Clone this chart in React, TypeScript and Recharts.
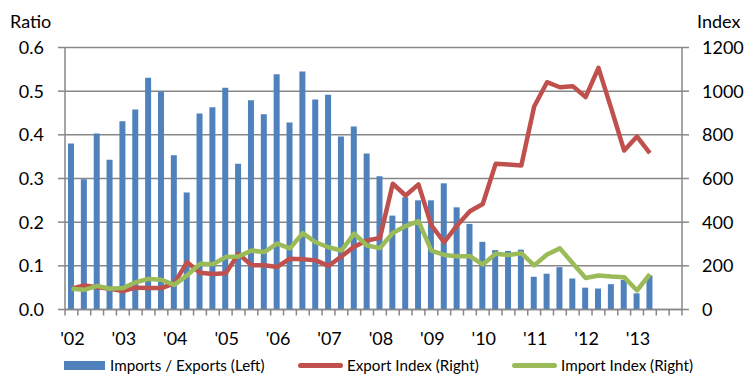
import React from 'react';
import {
  ComposedChart,
  Bar,
  Line,
  XAxis,
  YAxis,
  CartesianGrid,
  Legend,
} from 'recharts';

const years = ['02', '03', '04', '05', '06', '07', '08', '09', '10', '11', '12', '13'];
const quarters = years.flatMap((y) => ['Q1', 'Q2', 'Q3', 'Q4'].map((q) => `'${y} ${q}`));

const ratio = [
  0.38, 0.298, 0.403, 0.343, 0.431, 0.458, 0.531, 0.499, 0.353, 0.268, 0.449, 0.463,
  0.508, 0.334, 0.479, 0.447, 0.539, 0.428, 0.545, 0.481, 0.492, 0.396, 0.419, 0.357,
  0.305, 0.215, 0.257, 0.25, 0.25, 0.289, 0.234, 0.196, 0.155, 0.136, 0.134, 0.137,
  0.075, 0.082, 0.097, 0.071, 0.05, 0.048, 0.058, 0.068, 0.037, 0.078,
];

const exportIndex = [
  95, 110, 102, 95, 84, 100, 98, 98, 120, 217, 168, 163,
  166, 255, 203, 203, 195, 233, 230, 225, 200, 243, 288, 316,
  328, 576, 522, 573, 385, 308, 385, 450, 483, 667, 664, 660,
  930, 1041, 1018, 1023, 973, 1107, 920, 728, 792, 716,
];

const importIndex = [
  95, 90, 108, 95, 98, 125, 140, 136, 113, 156, 209, 207,
  240, 243, 270, 263, 302, 280, 350, 308, 285, 270, 348, 293,
  281, 350, 382, 405, 270, 250, 244, 244, 206, 255, 250, 258,
  202, 252, 280, 212, 144, 156, 151, 148, 87, 162,
];

const leftTicks = [0, 0.1, 0.2, 0.3, 0.4, 0.5, 0.6];
const rightTicks = [0, 200, 400, 600, 800, 1000, 1200];

const data = quarters.map((q, i) => ({
  q,
  ratio: ratio[i] ?? null,
  exp: exportIndex[i] ?? null,
  imp: importIndex[i] ?? null,
}));

const FONT = 'Lato, "Open Sans", sans-serif';
const GRID = '#878787';
const TEXT = '#000';
const TICK_FS = 18;

const QuarterTick = (props: any) => {
  const { x, y, payload, index } = props;
  const half = payload?.offset || 617 / 48 / 2;
  const label = String(payload.value);
  return (
    <g>
      <line x1={x - half} x2={x - half} y1={y} y2={y + 6} stroke={GRID} strokeWidth={1.5} />
      {index === quarters.length - 1 && (
        <line x1={x + half} x2={x + half} y1={y} y2={y + 6} stroke={GRID} strokeWidth={1.5} />
      )}
      {label.endsWith('Q1') && (
        <text x={x + 1} y={y + 35} textAnchor="middle" fontSize={TICK_FS} fill={TEXT} fontFamily={FONT}>
          {label.split(' ')[0]}
        </text>
      )}
    </g>
  );
};

const legendItems = [
  { name: 'Imports / Exports (Left)', color: '#4F81BD', kind: 'bar', left: 64 },
  { name: 'Export Index (Right)', color: '#C0504D', kind: 'line', left: 298 },
  { name: 'Import Index (Right)', color: '#9BBB59', kind: 'line', left: 512 },
];

const ChartLegend = () => (
  <div style={{ position: 'relative', width: 755, height: 24, fontFamily: FONT, fontSize: 15.2 }}>
    {legendItems.map((it) => (
      <div
        key={it.name}
        style={{ position: 'absolute', left: it.left, top: 0, display: 'flex', alignItems: 'center', height: 24 }}
      >
        {it.kind === 'bar' ? (
          <span style={{ display: 'inline-block', width: 41, height: 9, background: it.color, marginRight: 5 }} />
        ) : (
          <span
            style={{ display: 'inline-block', width: 45, height: 5, borderRadius: 3, background: it.color, marginRight: 4 }}
          />
        )}
        <span style={{ color: TEXT, whiteSpace: 'nowrap' }}>{it.name}</span>
      </div>
    ))}
  </div>
);

export default function App() {
  return (
    <div style={{ position: 'absolute', left: 0, top: 0, width: 755, height: 387, background: '#fff' }}>
      <ComposedChart
        width={755}
        height={387}
        data={data}
        margin={{ top: 47.5, right: 0, bottom: 37.5, left: 0 }}
        barCategoryGap={0}
      >
        <CartesianGrid yAxisId="left" vertical={false} stroke={GRID} strokeWidth={1.5} />
        <XAxis
          dataKey="q"
          interval={0}
          height={40}
          tickLine={false}
          tickSize={0}
          tickMargin={0}
          axisLine={{ stroke: GRID, strokeWidth: 1.5 }}
          tick={<QuarterTick />}
        />
        <YAxis
          yAxisId="left"
          width={65}
          domain={[0, 0.6]}
          ticks={leftTicks}
          tickFormatter={(v: number) => v.toFixed(1)}
          axisLine={{ stroke: GRID, strokeWidth: 1.5 }}
          tickLine={{ stroke: GRID, strokeWidth: 1.5 }}
          tickSize={7}
          tickMargin={14}
          tick={{ fill: TEXT, fontSize: TICK_FS, fontFamily: FONT }}
          label={{
            content: () => (
              <text x={10} y={28} fontSize={TICK_FS} fill={TEXT} fontFamily={FONT}>
                Ratio
              </text>
            ),
          }}
        />
        <YAxis
          yAxisId="right"
          orientation="right"
          width={73}
          domain={[0, 1200]}
          ticks={rightTicks}
          axisLine={{ stroke: GRID, strokeWidth: 1.5 }}
          tickLine={{ stroke: GRID, strokeWidth: 1.5 }}
          tickSize={7}
          tickMargin={13}
          tick={{ fill: TEXT, fontSize: TICK_FS, fontFamily: FONT }}
          label={{
            content: () => (
              <text x={697} y={28} fontSize={TICK_FS} fill={TEXT} fontFamily={FONT}>
                Index
              </text>
            ),
          }}
        />
        <Bar yAxisId="left" dataKey="ratio" name="Imports / Exports (Left)" fill="#4F81BD" barSize={6} isAnimationActive={false} />
        <Line
          yAxisId="right"
          dataKey="exp"
          name="Export Index (Right)"
          type="linear"
          stroke="#C0504D"
          strokeWidth={4.5}
          strokeLinejoin="round"
          dot={false}
          activeDot={false}
          isAnimationActive={false}
        />
        <Line
          yAxisId="right"
          dataKey="imp"
          name="Import Index (Right)"
          type="linear"
          stroke="#9BBB59"
          strokeWidth={4.5}
          strokeLinejoin="round"
          dot={false}
          activeDot={false}
          isAnimationActive={false}
        />
        <Legend
          layout="horizontal"
          verticalAlign="middle"
          align="center"
          wrapperStyle={{ top: 353, left: 0, width: 755 }}
          content={() => <ChartLegend />}
        />
      </ComposedChart>
    </div>
  );
}
